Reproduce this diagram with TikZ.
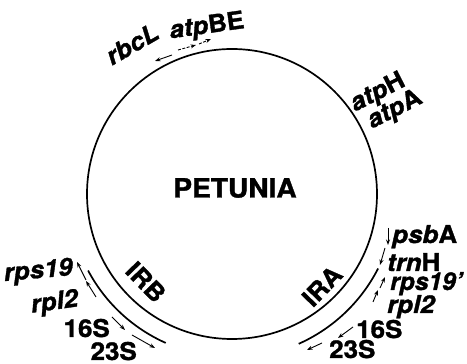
\documentclass[tikz,border=0pt]{standalone}
\usepackage{fontspec}
\setmainfont{TeX Gyre Heros}[FakeStretch=1.06,
  BoldFeatures={FakeBold=1.3}, BoldItalicFeatures={FakeBold=1.3}]
\usetikzlibrary{arrows.meta}
\newcommand\gitl[1]{\textit{#1}}
\tikzset{
  lbl/.style={font=\fontsize{24.5}{27}\selectfont\bfseries, inner sep=0pt},
  gar/.style={line width=0.9pt, -{Stealth[length=5.5pt,width=4pt]}},
  ring/.style={line width=1.7pt},
}
\begin{document}
\begin{tikzpicture}[x=1pt,y=1pt]
\useasboundingbox (0,0) rectangle (467,364);
\coordinate (C) at (232,170);
\draw[ring] (C) circle[radius=145];
% inverted repeat outer arcs
\draw[ring] ([shift={(208:163)}]C) arc[start angle=208,end angle=246,radius=163];
\draw[ring] ([shift={(294:164)}]C) arc[start angle=294,end angle=333,radius=164];

\node[lbl,font=\fontsize{26.5}{29}\selectfont\bfseries] (pet) at (235,176) {PETUNIA};
\node[lbl,rotate=-46] (irb) at (146,82) {IRB};
\node[lbl,rotate=46] (ira) at (322,78) {IRA};

% top
\node[lbl,rotate=30] (rbcl) at (132,320) {\gitl{rbcL}};
\node[lbl,rotate=8] (atpbe) at (207,337) {\gitl{atp}BE};
\node[lbl,rotate=27] (atph) at (378,271) {\gitl{atp}H};
\node[lbl,rotate=27] (atpa) at (395,254) {\gitl{atp}A};
\coordinate (r1) at (172,309); \coordinate (r2) at (155,303);
\draw[gar] (r1) -- (r2);
\coordinate (b1) at (178,314); \coordinate (b2) at (196,319);
\coordinate (b3) at (199,320); \coordinate (b4) at (211,325);
\draw[gar,dash pattern=on 3pt off 1.5pt] (b1) -- (b2);
\draw[gar,dash pattern=on 3pt off 1.5pt] (b3) -- (b4);

% right side (IRA)
\node[lbl,anchor=base west] (psba) at (392,121) {\gitl{psb}A};
\node[lbl,anchor=base west] (trnh) at (387,93) {\gitl{trn}H};
\node[lbl,anchor=base west,xscale=0.95] (rps19a) at (390,74) {\gitl{rps19'}};
\node[lbl,anchor=base west] (rpl2a) at (387,51) {\gitl{rpl2}};
\node[lbl,anchor=base west] (s16a) at (356,26) {16S};
\node[lbl,anchor=base west] (s23a) at (329,6) {23S};
\coordinate (p1) at (388,136); \coordinate (p2) at (388,119);
\coordinate (t1) at (385,116); \coordinate (t2) at (380,99);
\coordinate (q1) at (380,76);  \coordinate (q2) at (385,87);
\coordinate (l1) at (373,62);  \coordinate (l2) at (378,74);
\coordinate (m1) at (353,37);  \coordinate (m2) at (338,26);
\coordinate (n1) at (322,21);  \coordinate (n2) at (307,14);
\draw[gar] (p1) -- (p2);
\draw[gar] (t1) -- (t2);
\draw[gar] (q1) -- (q2);
\draw[gar] (l1) -- (l2);
\draw[gar] (m1) -- (m2);
\draw[gar] (n1) -- (n2);

% left side (IRB)
\node[lbl,anchor=base east,rotate=5] (rps19b) at (74,89) {\gitl{rps19}};
\node[lbl,anchor=base east,rotate=8] (rpl2b) at (80,58) {\gitl{rpl2}};
\node[lbl,anchor=base east] (s16b) at (110,27) {16S};
\node[lbl,anchor=base east] (s23b) at (137,4) {23S};
\coordinate (u1) at (86,84);  \coordinate (u2) at (77,102);
\coordinate (v1) at (96,67);  \coordinate (v2) at (86,83);
\coordinate (w1) at (112,47); \coordinate (w2) at (125,34);
\coordinate (z1) at (132,29); \coordinate (z2) at (155,16);
\draw[gar] (u1) -- (u2);
\draw[gar] (v1) -- (v2);
\draw[gar] (w1) -- (w2);
\draw[gar] (z1) -- (z2);
\end{tikzpicture}
\end{document}
